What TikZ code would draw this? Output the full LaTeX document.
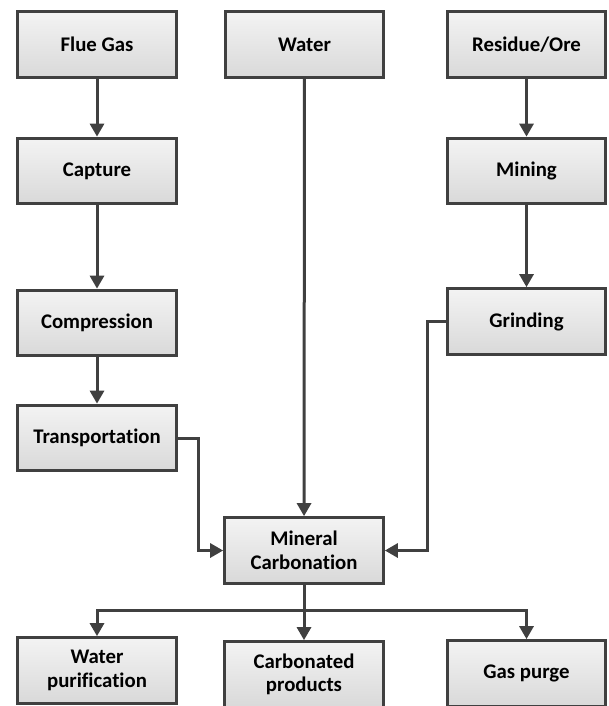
\documentclass[tikz,border=0pt]{standalone}
\usepackage{fontspec}
\setmainfont{Carlito}[RawFeature=-liga]
\usetikzlibrary{arrows.meta,calc}
\definecolor{edge}{HTML}{404040}
\definecolor{ftop}{HTML}{F3F3F3}
\definecolor{fbot}{HTML}{D9D9D9}
\tikzset{
  procbox/.style={draw=edge, line width=3.2pt, top color=ftop, bottom color=fbot,
    minimum width=158.5pt, minimum height=65.5pt, inner sep=0pt,
    align=center, font=\fontsize{20.8}{23.5}\selectfont\bfseries},
  flow/.style={draw=edge, line width=3pt, -{Triangle[length=13pt,width=14pt]}},
  plain/.style={draw=edge, line width=3pt}
}
\begin{document}
\begin{tikzpicture}[x=1pt,y=-1pt]
\useasboundingbox (0,0) rectangle (608,706);
\begin{scope}
\clip (0,0) rectangle (608,706);
\node[procbox] (flue) at (97,44.5) {Flue Gas};
\node[procbox] (water) at (304.5,44.5) {Water};
\node[procbox] (ore) at (526.5,44.5) {Residue/Ore};
\node[procbox] (capture) at (97,171) {Capture};
\node[procbox] (mining) at (526.5,171) {Mining};
\node[procbox] (compr) at (97,323) {Compression};
\node[procbox] (grind) at (526.5,321.5) {Grinding};
\node[procbox] (trans) at (97,438) {Transportation};
\node[procbox] (mc) at (304,550.5) {Mineral\\Carbonation};
\node[procbox] (wp) at (97,670.5) {Water\\purification};
\node[procbox] (cp) at (304,674.5) {Carbonated\\products};
\node[procbox] (gp) at (526.5,673.5) {Gas purge};

\coordinate (split) at (304,610);
\coordinate (tcorner) at (198,438);
\coordinate (gcorner) at (427,321.5);

\draw[flow] (flue) -- (capture);
\draw[flow] (capture) -- (compr);
\draw[flow] (compr) -- (trans);
\draw[flow] (ore) -- (mining);
\draw[flow] (mining) -- (grind);
\draw[flow] (water) -- (mc);
\draw[flow] (trans.east) -- (tcorner) |- (mc.west);
\draw[flow] (grind.west) -- (gcorner) |- (mc.east);
\draw[plain] (mc.south) -- (split);
\draw[flow] (split) -| (wp.north);
\draw[flow] (split) -- (cp.north);
\draw[flow] (split) -| (gp.north);
\end{scope}
\end{tikzpicture}
\end{document}
